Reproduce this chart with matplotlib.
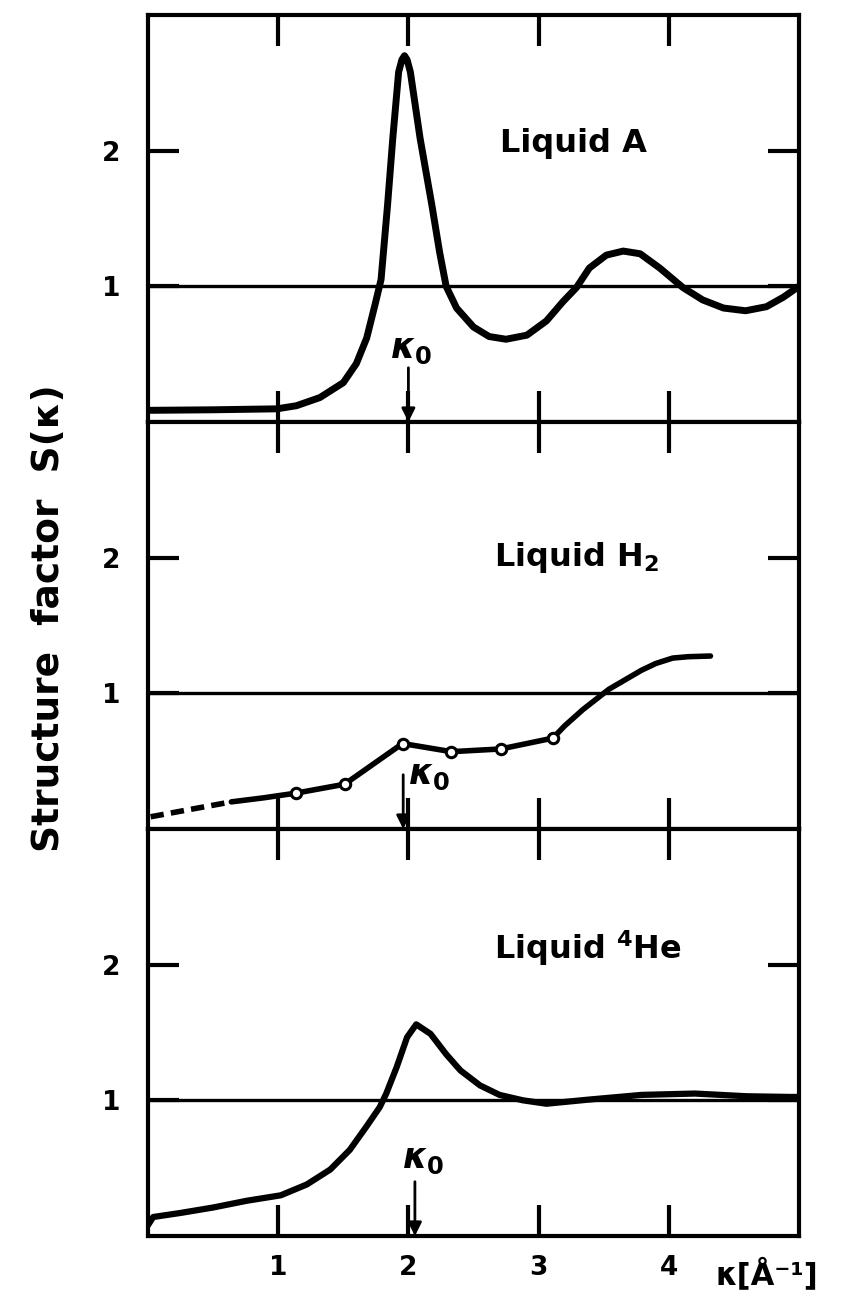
import numpy as np
import matplotlib.pyplot as plt

plt.rcParams['font.family'] = ['DejaVu Sans']
plt.rcParams['font.weight'] = 'bold'

# Liquid A (argon)
k_ar = [0.0, 0.5, 0.99, 1.14, 1.32, 1.50, 1.60, 1.68, 1.745, 1.79, 1.84, 1.88, 1.925,
        1.95, 1.97, 1.99, 2.015, 2.09, 2.18, 2.24, 2.29, 2.37, 2.50, 2.62, 2.75,
        2.91, 3.06, 3.19, 3.29, 3.39, 3.52, 3.65, 3.78, 3.93, 4.11, 4.26, 4.42,
        4.59, 4.75, 4.88, 5.0]
s_ar = [0.086, 0.09, 0.097, 0.12, 0.18, 0.29, 0.43, 0.62, 0.87, 1.05, 1.60, 2.09, 2.58,
        2.67, 2.70, 2.67, 2.58, 2.09, 1.60, 1.25, 1.0, 0.84, 0.70, 0.63, 0.61,
        0.64, 0.745, 0.89, 0.99, 1.135, 1.23, 1.26, 1.24, 1.135, 0.99, 0.90, 0.84,
        0.82, 0.85, 0.92, 1.0]

# Liquid H2: dashed extrapolation, measured points, smooth tail
k_h2_dash = [0.02, 0.30, 0.64]
s_h2_dash = [0.09, 0.14, 0.20]
k_h2 = [0.64, 0.89, 1.14, 1.51, 1.955, 2.33, 2.71, 3.11, 3.20, 3.34, 3.54, 3.79,
        3.90, 4.03, 4.15, 4.32]
s_h2 = [0.20, 0.23, 0.265, 0.33, 0.63, 0.57, 0.59, 0.67, 0.76, 0.88, 1.03, 1.17,
        1.22, 1.26, 1.27, 1.275]
k_h2_pts = [1.14, 1.51, 1.955, 2.33, 2.71, 3.11]
s_h2_pts = [0.265, 0.33, 0.63, 0.57, 0.59, 0.67]

# Liquid 4He
k_he = [0.0, 0.04, 0.25, 0.50, 0.76, 1.02, 1.22, 1.40, 1.55, 1.68, 1.78, 1.83, 1.91,
        1.99, 2.06, 2.17, 2.29, 2.40, 2.55, 2.70, 2.88, 3.06, 3.38, 3.79, 4.20,
        4.60, 4.93, 5.0]
s_he = [0.08, 0.14, 0.17, 0.21, 0.26, 0.30, 0.38, 0.49, 0.635, 0.81, 0.95, 1.05, 1.245,
        1.465, 1.56, 1.49, 1.34, 1.22, 1.11, 1.04, 1.0, 0.975, 1.005, 1.04, 1.05,
        1.03, 1.025, 1.025]

panels = [
    dict(k=k_ar, s=s_ar, lw=5.0, label='Liquid A', lab_xy=(2.70, 2.05),
         k0_arrow=2.0, k0_text=(1.86, 0.54)),
    dict(k=k_h2, s=s_h2, lw=4.0, label='Liquid H$_2$', lab_xy=(2.66, 2.0),
         k0_arrow=1.96, k0_text=(2.0, 0.40)),
    dict(k=k_he, s=s_he, lw=4.5, label='Liquid $^4$He', lab_xy=(2.66, 2.12),
         k0_arrow=2.05, k0_text=(1.95, 0.57)),
]

fig = plt.figure(figsize=(8.43, 13.06), dpi=100)
left, width = 148 / 843, 651 / 843
top, bottom = 1 - 15 / 1306, 1 - 1236 / 1306
h = (top - bottom) / 3

for i, p in enumerate(panels):
    ax = fig.add_axes([left, top - (i + 1) * h, width, h])
    ax.set_xlim(0, 5)
    ax.set_ylim(0, 3)
    ax.axhline(1, color='k', lw=2.4, zorder=1)
    ax.plot(p['k'], p['s'], color='k', lw=p['lw'], solid_capstyle='round',
            solid_joinstyle='round', zorder=3)
    if i == 1:
        ax.plot(k_h2_dash, s_h2_dash, color='k', lw=4.0, dashes=(2.4, 1.3), zorder=3)
        ax.plot(k_h2_pts, s_h2_pts, 'o', color='k', mfc='white', ms=7.5, mew=2.2, zorder=4)
    ax.text(p['lab_xy'][0], p['lab_xy'][1], p['label'], fontsize=23,
            fontweight='bold', ha='left', va='center')
    ax.annotate('', xy=(p['k0_arrow'], 0.0), xytext=(p['k0_arrow'], 0.40),
                arrowprops=dict(arrowstyle='-|>', color='k', lw=2.0,
                                mutation_scale=20, shrinkA=0, shrinkB=0))
    ax.text(p['k0_text'][0], p['k0_text'][1], r'$\kappa_0$', fontsize=25,
            ha='left', va='center')
    for sp in ax.spines.values():
        sp.set_linewidth(3.0)
    ax.set_xticks([1, 2, 3, 4])
    ax.set_yticks([1, 2])
    ax.tick_params(axis='x', direction='in', top=True, bottom=True, length=22,
                   width=3.0, labelsize=19, pad=14, labelbottom=(i == 2))
    ax.tick_params(axis='y', direction='in', left=True, right=True, length=22,
                   width=3.0, labelsize=19, pad=20)

fig.text(49 / 843, 0.527, 'Structure  factor  S(κ)', rotation=90, fontsize=27,
         fontweight='bold', ha='center', va='center')
fig.text(715 / 843, 1 - 1257 / 1306, 'κ[Å⁻¹]', fontsize=22, fontweight='bold',
         ha='left', va='top')

fig.savefig('out.png', dpi=100)
